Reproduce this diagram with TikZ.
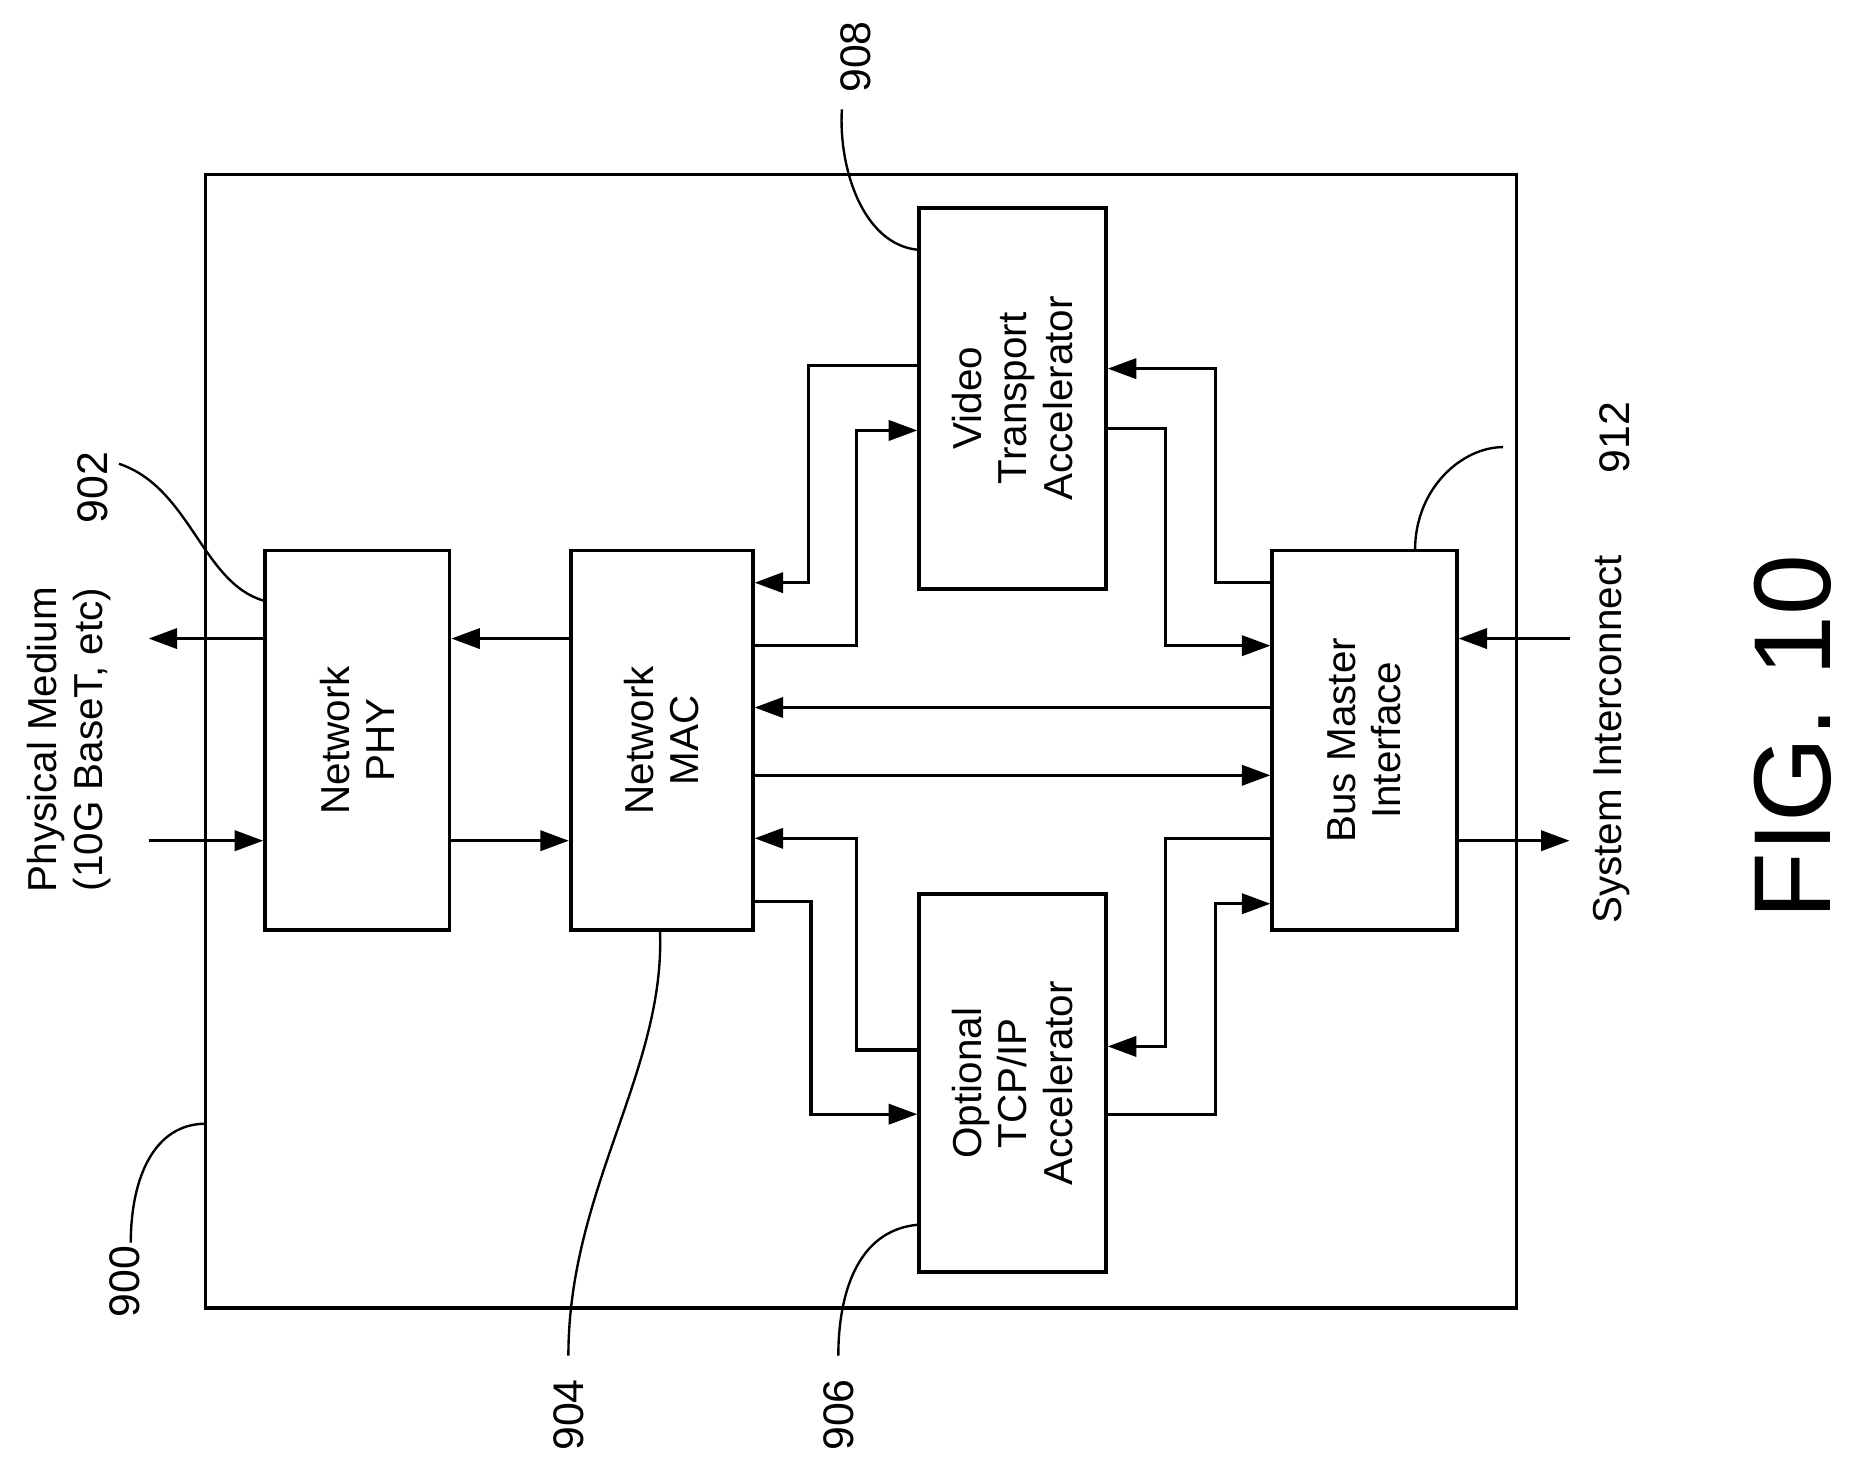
\documentclass[tikz,border=0pt]{standalone}
\usepackage{fontspec}
\setmainfont{Liberation Sans}
\usetikzlibrary{arrows.meta}
\begin{document}
\begin{tikzpicture}[x=0.5pt,y=-0.5pt,
 blk/.style={draw,line width=1.6pt},
 arr/.style={line width=1.3pt,-{Triangle[length=12pt,width=8.5pt]}},
 lead/.style={line width=1pt},
 txt/.style={rotate=90,font=\fontsize{17}{19}\selectfont,align=center},
 num/.style={rotate=90,font=\fontsize{18}{20}\selectfont}]
\useasboundingbox (0,0) rectangle (1560,1232);
\draw[line width=1.3pt] (173,147) rectangle (1275,1100);
\node[blk,minimum width=77.5pt,minimum height=159.5pt] (phy) at (300.5,622.5) {};
\node[txt] at (phy) {Network\\PHY};
\node[blk,minimum width=76.5pt,minimum height=159.5pt] (mac) at (556.5,622.5) {};
\node[txt] at (mac) {Network\\MAC};
\node[blk,minimum width=78.5pt,minimum height=160pt] (vid) at (851.5,335) {};
\node[txt] at (vid) {Video\\Transport\\Accelerator};
\node[blk,minimum width=78.5pt,minimum height=159pt] (tcp) at (851.5,911) {};
\node[txt] at (tcp) {Optional\\TCP/IP\\Accelerator};
\node[blk,minimum width=77.5pt,minimum height=159.5pt] (bus) at (1147.5,622.5) {};
\node[txt] at (bus) {Bus Master\\Interface};
\coordinate (pl1) at (125,537); \coordinate (pl2) at (125,707);
\coordinate (sr1) at (1320,537); \coordinate (sr2) at (1320,707);
\coordinate (e902) at (100,390); \coordinate (e908) at (708,92);
\coordinate (e912) at (1264,376); \coordinate (e900) at (110,1045);
\coordinate (e904) at (478,1140); \coordinate (e906) at (705,1140);
\draw[arr] (phy.west |- 0,537) -- (pl1);
\draw[arr] (pl2) -- (phy.west |- 0,707);
\draw[arr] (mac.west |- 0,537) -- (phy.east |- 0,537);
\draw[arr] (phy.east |- 0,707) -- (mac.west |- 0,707);
\draw[arr] (bus.west |- 0,595) -- (mac.east |- 0,595);
\draw[arr] (mac.east |- 0,652) -- (bus.west |- 0,652);
\draw[arr] (vid.west |- 0,307) -- (680,307) -- (680,490) -- (mac.east |- 0,490);
\draw[arr] (mac.east |- 0,543) -- (720,543) -- (720,362) -- (vid.west |- 0,362);
\draw[arr] (bus.west |- 0,490) -- (1022,490) -- (1022,310) -- (vid.east |- 0,310);
\draw[arr] (vid.east |- 0,360) -- (980,360) -- (980,543) -- (bus.west |- 0,543);
\draw[arr] (mac.east |- 0,758) -- (682,758) -- (682,937) -- (tcp.west |- 0,937);
\draw[arr] (tcp.west |- 0,883) -- (720,883) -- (720,705) -- (mac.east |- 0,705);
\draw[arr] (bus.west |- 0,705) -- (980,705) -- (980,880) -- (tcp.east |- 0,880);
\draw[arr] (tcp.east |- 0,937) -- (1022,937) -- (1022,760) -- (bus.west |- 0,760);
\draw[arr] (sr1) -- (bus.east |- 0,537);
\draw[arr] (bus.east |- 0,707) -- (sr2);
\node[txt] (pm) at (58,622) {Physical Medium\\(10G BaseT, etc)};
\node[txt] (si) at (1355,622) {System Interconnect};
\node[rotate=90,font=\fontsize{46}{50}\selectfont] (fig) at (1508,620) {FIG. 10};
\node[num] (n902) at (78,410) {902};
\node[num] (n900) at (105,1078) {900};
\node[num] (n904) at (478,1190) {904};
\node[num] (n906) at (705,1190) {906};
\node[num] (n908) at (720,48) {908};
\node[num] (n912) at (1358,368) {912};
\draw[lead] (phy.west |- 0,505) .. controls (170,490) and (160,410) .. (e902);
\draw[lead] (e900) .. controls (110,990) and (130,945) .. (173,945);
\draw[lead] (555,782) .. controls (560,900) and (478,1000) .. (e904);
\draw[lead] (tcp.west |- 0,1030) .. controls (720,1035) and (705,1090) .. (e906);
\draw[lead] (vid.west |- 0,210) .. controls (725,205) and (705,140) .. (e908);
\draw[lead] (1190,463) .. controls (1190,410) and (1230,376) .. (e912);
\end{tikzpicture}
\end{document}
